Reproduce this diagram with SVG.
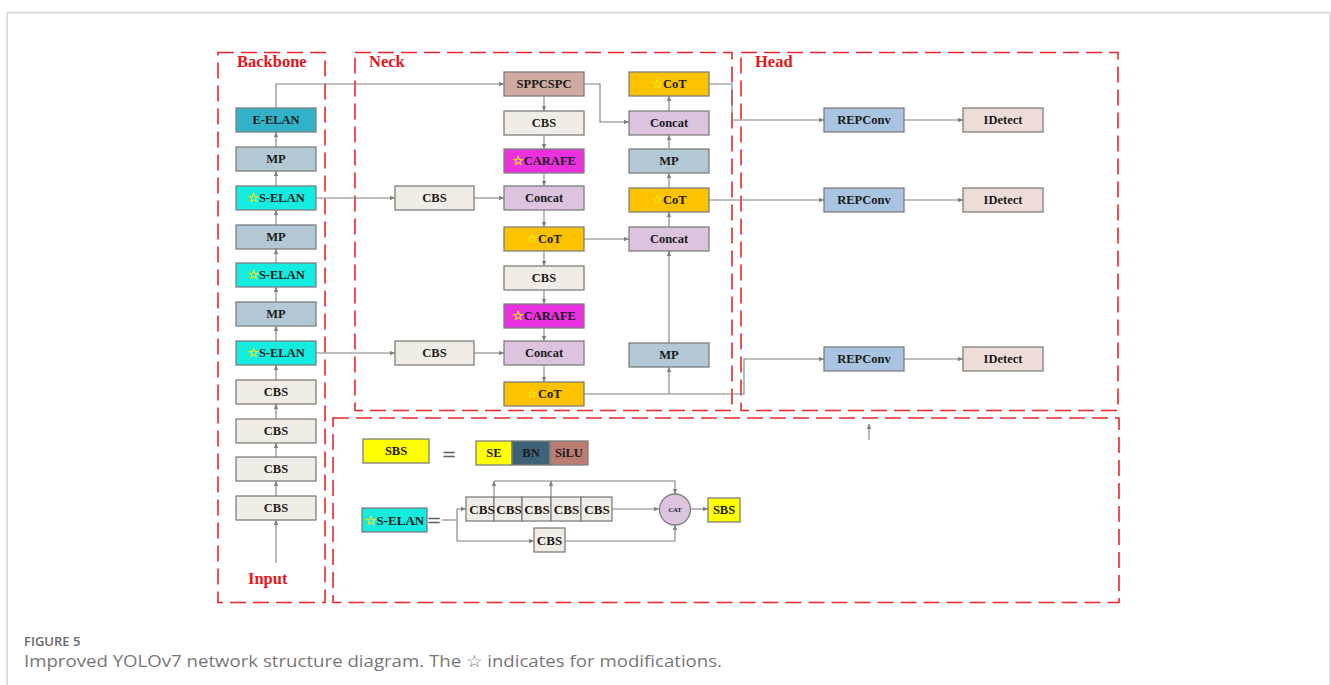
<svg xmlns="http://www.w3.org/2000/svg" width="1331" height="685" viewBox="0 0 1331 685">
<style>
.frame{fill:none;stroke:#d4d4d4;stroke-width:1.5}
.zone{fill:none;stroke:#e8262b;stroke-width:1.6;stroke-dasharray:16 7}
.zt{font-family:"Liberation Serif","Times New Roman",serif;font-weight:bold;font-size:16.5px;fill:#e8161b}
.n rect{stroke:#7f7f7f;stroke-width:1.3}
.n text,.t{font-family:"Liberation Serif","Times New Roman",serif;font-weight:bold;font-size:12.5px;fill:#1a1a1a;text-anchor:middle}
.st{font-family:"DejaVu Sans",sans-serif;font-weight:bold;font-size:13px;fill:#ffff00;stroke:#f0e000;stroke-width:0.4}
.c path{fill:none;stroke:#808080;stroke-width:1.1}
.eelan{fill:#31b2c9}.mp{fill:#b3c8d5}.selan{fill:#14ece0}.cbs{fill:#f2ece6}
.spp{fill:#cfaaa3}.carafe{fill:#eb30df}.concat{fill:#dcc4df}.cot{fill:#fcc200}
.rep{fill:#a9c4e0}.idet{fill:#eedcd8}.sbs{fill:#ffff00}.bn{fill:#3e6278}.silu{fill:#bb7c72}
.cap1{font-family:"Open Sans","Noto Sans",sans-serif;font-weight:600;font-size:13px;fill:#6a6a6a}
.cap2{font-family:"Open Sans","Noto Sans",sans-serif;font-weight:400;font-size:17px;fill:#777777}
.eq{font-family:"DejaVu Sans",sans-serif;font-size:18px;fill:#606060;text-anchor:middle}
</style>
<defs>
<marker id="a" markerWidth="6" markerHeight="5" refX="5" refY="2.2" orient="auto" markerUnits="userSpaceOnUse">
<path d="M0,0 L5,2.2 L0,4.4 z" fill="#808080"/>
</marker>
</defs>
<rect width="1331" height="685" fill="#ffffff"/>
<path class="frame" d="M7,685 V12.5 H1330 V685"/>

<g id="zones">
<rect class="zone" x="218" y="52.5" width="107" height="550"/>
<rect class="zone" x="355" y="52.5" width="377" height="358"/>
<rect class="zone" x="741" y="52.5" width="377" height="358"/>
<rect class="zone" x="333" y="418" width="786" height="184.5"/>
<text class="zt" x="237" y="67">Backbone</text>
<text class="zt" x="369" y="67">Neck</text>
<text class="zt" x="755" y="67">Head</text>
<text class="zt" x="248" y="584">Input</text>
</g>

<g class="c" id="connectors">
<path d="M276,563 V520" marker-end="url(#a)"/>
<path d="M276,496 V481" marker-end="url(#a)"/>
<path d="M276,457 V443" marker-end="url(#a)"/>
<path d="M276,419 V404" marker-end="url(#a)"/>
<path d="M276,380 V365" marker-end="url(#a)"/>
<path d="M276,341 V326" marker-end="url(#a)"/>
<path d="M276,302 V287" marker-end="url(#a)"/>
<path d="M276,263 V249" marker-end="url(#a)"/>
<path d="M276,225 V210" marker-end="url(#a)"/>
<path d="M276,186 V171" marker-end="url(#a)"/>
<path d="M276,147 V132" marker-end="url(#a)"/>
<path d="M276,108 V84 H504" marker-end="url(#a)"/>
<path d="M316,198 H395" marker-end="url(#a)"/>
<path d="M474,198 H504" marker-end="url(#a)"/>
<path d="M316,353 H395" marker-end="url(#a)"/>
<path d="M474,353 H504" marker-end="url(#a)"/>
<path d="M544,96 V111" marker-end="url(#a)"/>
<path d="M544,135 V149" marker-end="url(#a)"/>
<path d="M544,173 V186" marker-end="url(#a)"/>
<path d="M544,210 V227" marker-end="url(#a)"/>
<path d="M544,251 V266" marker-end="url(#a)"/>
<path d="M544,290 V304" marker-end="url(#a)"/>
<path d="M544,328 V341" marker-end="url(#a)"/>
<path d="M544,365 V382" marker-end="url(#a)"/>
<path d="M584,84 H600 V122 H629" marker-end="url(#a)"/>
<path d="M584,239 H629" marker-end="url(#a)"/>
<path d="M584,394 H744 V359 H824" marker-end="url(#a)"/>
<path d="M669,394 V367" marker-end="url(#a)"/>
<path d="M669,343 V251" marker-end="url(#a)"/>
<path d="M669,227 V212" marker-end="url(#a)"/>
<path d="M669,188 V173" marker-end="url(#a)"/>
<path d="M669,149 V135" marker-end="url(#a)"/>
<path d="M669,111 V96" marker-end="url(#a)"/>
<path d="M709,84 H732 V120 H824" marker-end="url(#a)"/>
<path d="M709,200 H824" marker-end="url(#a)"/>
<path d="M904,120 H963" marker-end="url(#a)"/>
<path d="M904,200 H963" marker-end="url(#a)"/>
<path d="M904,359 H963" marker-end="url(#a)"/>
<path d="M869,440 V424" marker-end="url(#a)"/>
<path d="M442,520 H457"/>
<path d="M457,541 V509 H466" marker-end="url(#a)"/>
<path d="M457,541 H534" marker-end="url(#a)"/>
<path d="M494,497 V481" marker-end="url(#a)"/>
<path d="M551,497 V481" marker-end="url(#a)"/>
<path d="M494,481 H675 V494" marker-end="url(#a)"/>
<path d="M612,509 H659" marker-end="url(#a)"/>
<path d="M565,541 H675 V525" marker-end="url(#a)"/>
<path d="M691,509 H708" marker-end="url(#a)"/>
</g>

<g id="bb-eelan" class="n"><rect class="eelan" x="236" y="108" width="80" height="24"/><text x="276" y="124">E-ELAN</text></g>
<g id="bb-mp3" class="n"><rect class="mp" x="236" y="147" width="80" height="24"/><text x="276" y="163">MP</text></g>
<g id="bb-selan3" class="n"><rect class="selan" x="236" y="186" width="80" height="24"/><text x="276" y="202"><tspan class="st">☆</tspan>S-ELAN</text></g>
<g id="bb-mp2" class="n"><rect class="mp" x="236" y="225" width="80" height="24"/><text x="276" y="241">MP</text></g>
<g id="bb-selan2" class="n"><rect class="selan" x="236" y="263" width="80" height="24"/><text x="276" y="279"><tspan class="st">☆</tspan>S-ELAN</text></g>
<g id="bb-mp1" class="n"><rect class="mp" x="236" y="302" width="80" height="24"/><text x="276" y="318">MP</text></g>
<g id="bb-selan1" class="n"><rect class="selan" x="236" y="341" width="80" height="24"/><text x="276" y="357"><tspan class="st">☆</tspan>S-ELAN</text></g>
<g id="bb-cbs4" class="n"><rect class="cbs" x="236" y="380" width="80" height="24"/><text x="276" y="396">CBS</text></g>
<g id="bb-cbs3" class="n"><rect class="cbs" x="236" y="419" width="80" height="24"/><text x="276" y="435">CBS</text></g>
<g id="bb-cbs2" class="n"><rect class="cbs" x="236" y="457" width="80" height="24"/><text x="276" y="473">CBS</text></g>
<g id="bb-cbs1" class="n"><rect class="cbs" x="236" y="496" width="80" height="24"/><text x="276" y="512">CBS</text></g>

<g id="nk-spp" class="n"><rect class="spp" x="504" y="72" width="80" height="24"/><text x="544" y="88">SPPCSPC</text></g>
<g id="nk-cbs1" class="n"><rect class="cbs" x="504" y="111" width="80" height="24"/><text x="544" y="127">CBS</text></g>
<g id="nk-carafe1" class="n"><rect class="carafe" x="504" y="149" width="80" height="24"/><text x="544" y="165"><tspan class="st">☆</tspan>CARAFE</text></g>
<g id="nk-concat1" class="n"><rect class="concat" x="504" y="186" width="80" height="24"/><text x="544" y="202">Concat</text></g>
<g id="nk-cot1" class="n"><rect class="cot" x="504" y="227" width="80" height="24"/><text x="544" y="243"><tspan class="st">☆</tspan>CoT</text></g>
<g id="nk-cbs2" class="n"><rect class="cbs" x="504" y="266" width="80" height="24"/><text x="544" y="282">CBS</text></g>
<g id="nk-carafe2" class="n"><rect class="carafe" x="504" y="304" width="80" height="24"/><text x="544" y="320"><tspan class="st">☆</tspan>CARAFE</text></g>
<g id="nk-concat2" class="n"><rect class="concat" x="504" y="341" width="80" height="24"/><text x="544" y="357">Concat</text></g>
<g id="nk-cot2" class="n"><rect class="cot" x="504" y="382" width="80" height="24"/><text x="544" y="398"><tspan class="st">☆</tspan>CoT</text></g>
<g id="nk-cbsl1" class="n"><rect class="cbs" x="395" y="186" width="79" height="24"/><text x="434.5" y="202">CBS</text></g>
<g id="nk-cbsl2" class="n"><rect class="cbs" x="395" y="341" width="79" height="24"/><text x="434.5" y="357">CBS</text></g>
<g id="nk-cot5" class="n"><rect class="cot" x="629" y="72" width="80" height="24"/><text x="669" y="88"><tspan class="st">☆</tspan>CoT</text></g>
<g id="nk-concat4" class="n"><rect class="concat" x="629" y="111" width="80" height="24"/><text x="669" y="127">Concat</text></g>
<g id="nk-mp2" class="n"><rect class="mp" x="629" y="149" width="80" height="24"/><text x="669" y="165">MP</text></g>
<g id="nk-cot4" class="n"><rect class="cot" x="629" y="188" width="80" height="24"/><text x="669" y="204"><tspan class="st">☆</tspan>CoT</text></g>
<g id="nk-concat3" class="n"><rect class="concat" x="629" y="227" width="80" height="24"/><text x="669" y="243">Concat</text></g>
<g id="nk-mp1" class="n"><rect class="mp" x="629" y="343" width="80" height="24"/><text x="669" y="359">MP</text></g>

<g id="hd-rep1" class="n"><rect class="rep" x="824" y="108" width="80" height="24"/><text x="864" y="124">REPConv</text></g>
<g id="hd-rep2" class="n"><rect class="rep" x="824" y="188" width="80" height="24"/><text x="864" y="204">REPConv</text></g>
<g id="hd-rep3" class="n"><rect class="rep" x="824" y="347" width="80" height="24"/><text x="864" y="363">REPConv</text></g>
<g id="hd-det1" class="n"><rect class="idet" x="963" y="108" width="80" height="24"/><text x="1003" y="124">IDetect</text></g>
<g id="hd-det2" class="n"><rect class="idet" x="963" y="188" width="80" height="24"/><text x="1003" y="204">IDetect</text></g>
<g id="hd-det3" class="n"><rect class="idet" x="963" y="347" width="80" height="24"/><text x="1003" y="363">IDetect</text></g>

<g id="lg-sbs" class="n"><rect class="sbs" x="363" y="439" width="66" height="24"/><text x="396" y="455">SBS</text></g>
<text class="eq" x="449" y="460">=</text>
<g id="lg-se" class="n"><rect class="sbs" x="476" y="441" width="36" height="24"/><text x="494" y="457">SE</text></g>
<g id="lg-bn" class="n"><rect class="bn" x="512" y="441" width="38" height="24"/><text x="531" y="457">BN</text></g>
<g id="lg-silu" class="n"><rect class="silu" x="550" y="441" width="38" height="24"/><text x="569" y="457">SiLU</text></g>

<g id="lg-selan" class="n"><rect class="selan" x="362" y="508" width="65" height="24"/><text x="394.5" y="525" style="font-size:13px"><tspan class="st">☆</tspan>S-ELAN</text></g>
<text class="eq" x="434" y="526">=</text>
<g id="lg-cbsrow" class="n">
<rect class="cbs" x="466" y="497" width="28" height="24"/>
<rect class="cbs" x="494" y="497" width="28" height="24"/>
<rect class="cbs" x="522" y="497" width="29" height="24"/>
<rect class="cbs" x="551" y="497" width="30" height="24"/>
<rect class="cbs" x="581" y="497" width="31" height="24"/>
<text x="482" y="514" style="font-size:13px">CBS</text>
<text x="509" y="514" style="font-size:13px">CBS</text>
<text x="537" y="514" style="font-size:13px">CBS</text>
<text x="566.5" y="514" style="font-size:13px">CBS</text>
<text x="597" y="514" style="font-size:13px">CBS</text>
</g>
<g id="lg-cbs" class="n"><rect class="cbs" x="534" y="528" width="31" height="24"/><text x="549.5" y="545" style="font-size:13px">CBS</text></g>
<g id="lg-cat"><circle cx="675" cy="509.5" r="15.5" fill="#dcc4df" stroke="#7f7f7f" stroke-width="1.3"/><text class="t" x="675" y="512" style="font-size:6.5px">CAT</text></g>
<g id="lg-sbs2" class="n"><rect class="sbs" x="708" y="498" width="32" height="24"/><text x="724" y="514">SBS</text></g>

<g id="caption">
<text class="cap1" x="24" y="646">FIGURE 5</text>
<text class="cap2" x="24" y="667" textLength="698" lengthAdjust="spacingAndGlyphs">Improved YOLOv7 network structure diagram. The ☆ indicates for modifications.</text>
</g>
</svg>
